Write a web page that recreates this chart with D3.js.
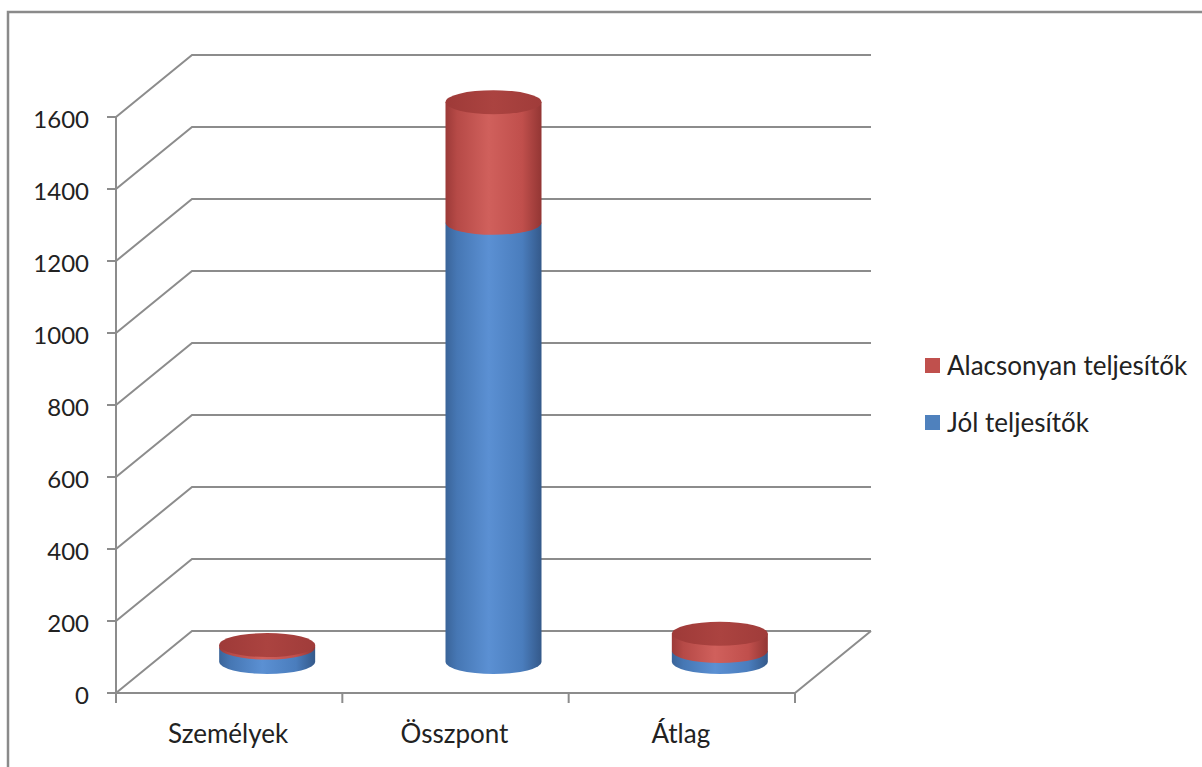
<!DOCTYPE html>
<html>
<head>
<meta charset="utf-8">
<script src="https://cdn.jsdelivr.net/npm/d3@7"></script>
<style>
  body { margin: 0; background: #fff; }
  text { font-family: Lato, "Open Sans", sans-serif; fill: #222; }
</style>
</head>
<body>
<script>
const width = 1202, height = 767;

// chart data
const categories = ["Személyek", "Összpont", "Átlag"];
const seriesKeys = ["jol", "alacsony"];
const seriesNames = { jol: "Jól teljesítők", alacsony: "Alacsonyan teljesítők" };
const jolValues = [40, 1220, 30.5];
const alacsonyValues = [7, 335, 47.9];
const yTicks = [0, 200, 400, 600, 800, 1000, 1200, 1400, 1600];

const rows = categories.map((c, i) => ({ cat: c, jol: jolValues[i], alacsony: alacsonyValues[i] }));
const stacked = d3.stack().keys(seriesKeys)(rows);

// 3d layout: front plane plus a depth offset for the back wall
const depthX = 76, depthY = -62;
const rx = 48, ry = 12;

const y = d3.scaleLinear().domain([0, 1600]).range([693, 117]);
const x = d3.scaleBand().domain(categories).range([116, 795]);

const svg = d3.select("body").append("svg")
    .attr("width", width)
    .attr("height", height);

const defs = svg.append("defs");
function hGrad(id, stops) {
  const g = defs.append("linearGradient").attr("id", id)
      .attr("x1", "0%").attr("x2", "100%").attr("y1", "0%").attr("y2", "0%");
  stops.forEach(s => g.append("stop").attr("offset", s[0]).attr("stop-color", s[1]));
}
hGrad("blueSide", [["0%", "#3a6499"], ["12%", "#4677b4"], ["45%", "#5b90d3"], ["80%", "#4a7dbd"], ["100%", "#34598a"]]);
hGrad("redSide", [["0%", "#9c3a38"], ["12%", "#b64a47"], ["45%", "#d0605c"], ["80%", "#c04f4c"], ["100%", "#933634"]]);
hGrad("redTop", [["0%", "#9e3a38"], ["50%", "#ab4340"], ["100%", "#a03c3a"]]);
hGrad("blueTop", [["0%", "#3a6499"], ["50%", "#4677b4"], ["100%", "#3a6499"]]);

const sideFill = { jol: "url(#blueSide)", alacsony: "url(#redSide)" };
const topFill = { jol: "url(#blueTop)", alacsony: "url(#redTop)" };

// outer frame (only top and left edges are visible)
svg.append("path")
    .attr("d", `M8,${height} L8,12 L${width},12`)
    .attr("fill", "none")
    .attr("stroke", "#8a8a8a")
    .attr("stroke-width", 2.5);

// gridlines: left wall diagonal + back wall horizontal
const gridColor = "#8c8c8c";
const grid = svg.append("g");
grid.selectAll("path.grid")
  .data(yTicks)
  .join("path")
    .attr("class", "grid")
    .attr("fill", "none")
    .attr("stroke", gridColor)
    .attr("stroke-width", 2)
    .attr("d", t => `M${x.range()[0]},${y(t)} l${depthX},${depthY} L${x.range()[1] + depthX},${y(t) + depthY}`);

// floor front edge and right edge
grid.append("path")
    .attr("fill", "none")
    .attr("stroke", gridColor)
    .attr("stroke-width", 2)
    .attr("d", `M${x.range()[0]},${y(0)} L${x.range()[1]},${y(0)} l${depthX},${depthY}`);

// y axis
const yAxis = svg.append("g");
yAxis.append("line")
    .attr("x1", x.range()[0]).attr("x2", x.range()[0])
    .attr("y1", y(1600)).attr("y2", y(0))
    .attr("stroke", gridColor).attr("stroke-width", 2);
yAxis.selectAll("line.tick")
  .data(yTicks)
  .join("line")
    .attr("class", "tick")
    .attr("x1", x.range()[0] - 9).attr("x2", x.range()[0])
    .attr("y1", d => y(d)).attr("y2", d => y(d))
    .attr("stroke", gridColor).attr("stroke-width", 2);
yAxis.selectAll("text")
  .data(yTicks)
  .join("text")
    .attr("x", 89)
    .attr("y", d => y(d) + 11)
    .attr("text-anchor", "end")
    .style("font-size", "24px")
    .text(d => d);

// x axis ticks and labels
const xTickPos = categories.map(c => x(c)).concat([x.range()[1]]);
svg.append("g").selectAll("line")
  .data(xTickPos)
  .join("line")
    .attr("x1", d => d).attr("x2", d => d)
    .attr("y1", y(0)).attr("y2", y(0) + 10)
    .attr("stroke", gridColor).attr("stroke-width", 2);
svg.append("g").selectAll("text")
  .data(categories)
  .join("text")
    .attr("x", d => x(d) + x.bandwidth() / 2 - 1)
    .attr("y", 743)
    .attr("text-anchor", "middle")
    .style("font-size", "26px")
    .text(d => d);

// cylinders, drawn at mid depth
const bars = svg.append("g");
const cxOf = c => x(c) + x.bandwidth() / 2 + depthX / 2;
const cyOf = v => y(v) + depthY / 2;

stacked.forEach((layer, li) => {
  layer.forEach(seg => {
    const c = seg.data.cat;
    const cx = cxOf(c);
    const yb = cyOf(seg[0]), yt = cyOf(seg[1]);
    bars.append("path")
        .attr("fill", sideFill[layer.key])
        .attr("d", `M${cx - rx},${yt} L${cx - rx},${yb} A${rx},${ry} 0 0 0 ${cx + rx},${yb} L${cx + rx},${yt} Z`);
    if (li === stacked.length - 1) {
      bars.append("ellipse")
          .attr("cx", cx).attr("cy", yt)
          .attr("rx", rx).attr("ry", ry)
          .attr("fill", topFill[layer.key]);
    }
  });
});

// legend
const legendItems = ["alacsony", "jol"];
const legendColor = { alacsony: "#c0504d", jol: "#4f81bd" };
const legend = svg.append("g").attr("transform", "translate(925,358)");
legend.selectAll("rect")
  .data(legendItems)
  .join("rect")
    .attr("x", 0)
    .attr("y", (d, i) => i * 57)
    .attr("width", 15).attr("height", 15)
    .attr("fill", d => legendColor[d]);
legend.selectAll("text")
  .data(legendItems)
  .join("text")
    .attr("x", 22)
    .attr("y", (d, i) => i * 57 + 17)
    .style("font-size", "26px")
    .text(d => seriesNames[d]);
</script>
</body>
</html>
